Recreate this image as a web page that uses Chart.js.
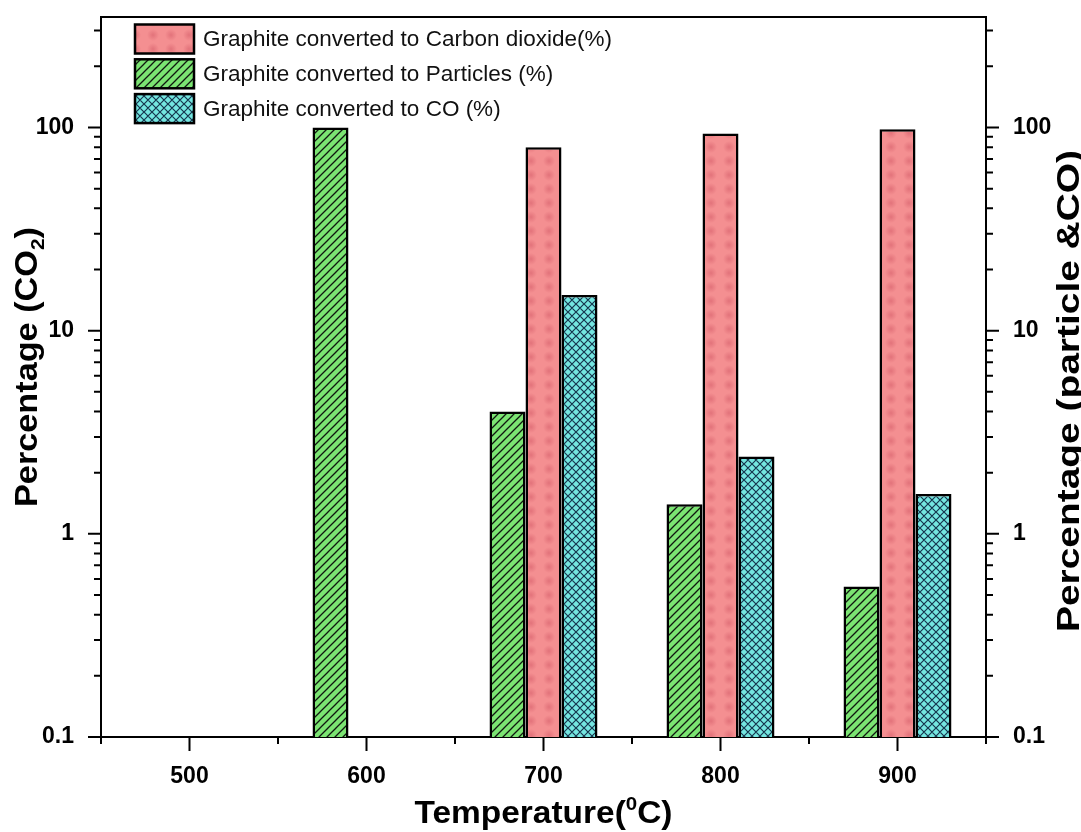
<!DOCTYPE html>
<html>
<head>
<meta charset="utf-8">
<script src="https://cdn.jsdelivr.net/npm/chart.js@4.4.1/dist/chart.umd.min.js"></script>
<style>
html,body{margin:0;padding:0;background:#fff;}
#c{display:block;}
</style>
</head>
<body>
<canvas id="c" width="1081" height="832"></canvas>
<script>
// ---- data ----
const temperatures = ['500', '600', '700', '800', '900'];
const particles = [null, 100, 4.0, 1.4, 0.55];
const carbonDioxide = [null, null, 80, 93.5, 98];
const carbonMonoxide = [null, null, 15, 2.4, 1.57];
const yTickValues = [0.1, 1, 10, 100];
const seriesNames = {
  co2: 'Graphite converted to Carbon dioxide(%)',
  particles: 'Graphite converted to Particles (%)',
  co: 'Graphite converted to CO (%)'
};

const FONT = "'Liberation Sans', Arial, sans-serif";

// ---- patterns ----
function hatchPattern() {
  const s = 8, c = document.createElement('canvas');
  c.width = s; c.height = s;
  const g = c.getContext('2d');
  g.fillStyle = '#7BE472'; g.fillRect(0, 0, s, s);
  g.strokeStyle = '#101810'; g.lineWidth = 1.3;
  g.beginPath();
  g.moveTo(0, s); g.lineTo(s, 0);
  g.moveTo(-s / 2, s / 2); g.lineTo(s / 2, -s / 2);
  g.moveTo(s / 2, s * 1.5); g.lineTo(s * 1.5, s / 2);
  g.stroke();
  return g.createPattern(c, 'repeat');
}
function crossPattern() {
  const s = 8, c = document.createElement('canvas');
  c.width = s; c.height = s;
  const g = c.getContext('2d');
  g.fillStyle = '#74E6E0'; g.fillRect(0, 0, s, s);
  g.strokeStyle = '#16364e'; g.lineWidth = 1.2;
  g.beginPath();
  g.moveTo(0, s); g.lineTo(s, 0);
  g.moveTo(-s / 2, s / 2); g.lineTo(s / 2, -s / 2);
  g.moveTo(s / 2, s * 1.5); g.lineTo(s * 1.5, s / 2);
  g.moveTo(0, 0); g.lineTo(s, s);
  g.moveTo(-s / 2, s / 2); g.lineTo(s / 2, s * 1.5);
  g.moveTo(s / 2, -s / 2); g.lineTo(s * 1.5, s / 2);
  g.stroke();
  return g.createPattern(c, 'repeat');
}
function dotPattern() {
  const w = 18, h = 14, c = document.createElement('canvas');
  c.width = w; c.height = h;
  const g = c.getContext('2d');
  g.fillStyle = '#F48F91'; g.fillRect(0, 0, w, h);
  const rg = g.createRadialGradient(w / 2, h / 2, 0, w / 2, h / 2, 6);
  rg.addColorStop(0, 'rgba(205,80,95,0.45)');
  rg.addColorStop(1, 'rgba(205,80,95,0)');
  g.fillStyle = rg; g.fillRect(0, 0, w, h);
  return g.createPattern(c, 'repeat');
}
const greenFill = hatchPattern();
const cyanFill = crossPattern();
const pinkFill = dotPattern();

// ---- plugins ----
const decorPlugin = {
  id: 'decor',
  afterDraw(chart) {
    const ctx = chart.ctx;
    const a = chart.chartArea;
    const xs = chart.scales.x, yl = chart.scales.y, yr = chart.scales.y2;
    ctx.save();
    ctx.strokeStyle = '#000';
    ctx.lineWidth = 2;
    // top frame line
    ctx.beginPath();
    ctx.moveTo(a.left - 1, a.top); ctx.lineTo(a.right + 1, a.top);
    ctx.stroke();
    // x ticks
    const p0 = xs.getPixelForValue(0), p1 = xs.getPixelForValue(1);
    const half = (p1 - p0) / 2;
    ctx.beginPath();
    for (let i = 0; i < temperatures.length; i++) {
      const p = xs.getPixelForValue(i);
      ctx.moveTo(p, a.bottom); ctx.lineTo(p, a.bottom + 14);
      ctx.moveTo(p - half, a.bottom); ctx.lineTo(p - half, a.bottom + 7);
      if (i === temperatures.length - 1) { ctx.moveTo(p + half, a.bottom); ctx.lineTo(p + half, a.bottom + 7); }
    }
    // y ticks (left outward, right outward)
    yTickValues.forEach(d => {
      for (let m = 1; m <= 9; m++) {
        const v = d * m;
        if (v > yl.max + 1e-9) continue;
        const len = m === 1 ? 13 : 7;
        const py = yl.getPixelForValue(v);
        const pyr = yr.getPixelForValue(v);
        ctx.moveTo(a.left, py); ctx.lineTo(a.left - len, py);
        ctx.moveTo(a.right, pyr); ctx.lineTo(a.right + len, pyr);
      }
    });
    ctx.stroke();

    // legend inside plot
    const items = [
      { text: seriesNames.co2, fill: pinkFill },
      { text: seriesNames.particles, fill: greenFill },
      { text: seriesNames.co, fill: cyanFill }
    ];
    ctx.font = '22.5px ' + FONT;
    ctx.textBaseline = 'middle';
    ctx.textAlign = 'left';
    items.forEach((it, k) => {
      const cy = 39 + k * 34.8;
      ctx.fillStyle = it.fill;
      ctx.fillRect(135, cy - 14.5, 59, 29);
      ctx.lineWidth = 2.5;
      ctx.strokeStyle = '#000';
      ctx.strokeRect(135, cy - 14.5, 59, 29);
      ctx.fillStyle = '#111';
      ctx.fillText(it.text, 203, cy + 1);
    });

    // axis titles
    function drawParts(parts, size, target) {
      ctx.font = 'bold ' + size + 'px ' + FONT;
      let w = 0;
      const small = 'bold ' + Math.round(size * 0.62) + 'px ' + FONT;
      const widths = parts.map(p => {
        ctx.font = (p.sup || p.sub) ? small : 'bold ' + size + 'px ' + FONT;
        const ww = ctx.measureText(p.t).width; w += ww; return ww;
      });
      const sx = target ? target / w : 1;
      ctx.scale(sx, 1);
      let x = -w / 2;
      ctx.textAlign = 'left';
      ctx.textBaseline = 'alphabetic';
      ctx.fillStyle = '#000';
      parts.forEach((p, i) => {
        ctx.font = (p.sup || p.sub) ? small : 'bold ' + size + 'px ' + FONT;
        const dy = p.sup ? -size * 0.42 : (p.sub ? size * 0.22 : 0);
        ctx.fillText(p.t, x, dy);
        x += widths[i];
      });
    }
    ctx.save();
    ctx.translate((a.left + a.right) / 2, 823);
    drawParts([{ t: 'Temperature(' }, { t: '0', sup: true }, { t: 'C)' }], 31, 258);
    ctx.restore();

    ctx.save();
    ctx.translate(37, 367);
    ctx.rotate(-Math.PI / 2);
    drawParts([{ t: 'Percentage (CO' }, { t: '2', sub: true }, { t: ')' }], 31, 280);
    ctx.restore();

    ctx.save();
    ctx.translate(1079, 391);
    ctx.rotate(-Math.PI / 2);
    drawParts([{ t: 'Percentage (particle &CO)' }], 31, 482);
    ctx.restore();

    ctx.restore();
  }
};

const tickFont = { family: FONT, size: 23, weight: 'bold' };

function logAxis(position, width) {
  return {
    type: 'logarithmic',
    position: position,
    min: 0.1,
    max: 350,
    grid: { display: false, drawTicks: false },
    border: { display: true, color: '#000', width: 2 },
    afterBuildTicks: (scale) => { scale.ticks = yTickValues.map(v => ({ value: v, major: true })); },
    afterFit: (scale) => {
      scale.width = width;
      scale.paddingTop = 0; scale.paddingBottom = 0;
      scale.paddingLeft = 0; scale.paddingRight = 0;
    },
    ticks: {
      color: '#000',
      font: tickFont,
      padding: 27,
      autoSkip: false,
      callback: (v) => String(v)
    }
  };
}

new Chart(document.getElementById('c'), {
  type: 'bar',
  data: {
    labels: temperatures,
    datasets: [
      { label: seriesNames.particles, data: particles, yAxisID: 'y2', backgroundColor: greenFill, borderColor: '#000', borderWidth: 2.5 },
      { label: seriesNames.co2, data: carbonDioxide, yAxisID: 'y', backgroundColor: pinkFill, borderColor: '#000', borderWidth: 2.5 },
      { label: seriesNames.co, data: carbonMonoxide, yAxisID: 'y2', backgroundColor: cyanFill, borderColor: '#000', borderWidth: 2.5 }
    ]
  },
  options: {
    responsive: false,
    animation: false,
    devicePixelRatio: 1,
    categoryPercentage: 0.61,
    barPercentage: 1.0,
    layout: { padding: { top: 17, left: 0, right: 0, bottom: 0 } },
    plugins: { legend: { display: false }, tooltip: { enabled: false } },
    scales: {
      x: {
        type: 'category',
        offset: true,
        grid: { display: false, drawTicks: false },
        border: { display: true, color: '#000', width: 2 },
        afterFit: (scale) => {
          scale.height = 95;
          scale.paddingTop = 0; scale.paddingBottom = 0;
          scale.paddingLeft = 0; scale.paddingRight = 0;
        },
        ticks: { color: '#000', font: tickFont, padding: 26, maxRotation: 0 }
      },
      y: logAxis('left', 101),
      y2: logAxis('right', 95)
    }
  },
  plugins: [decorPlugin]
});
</script>
</body>
</html>
